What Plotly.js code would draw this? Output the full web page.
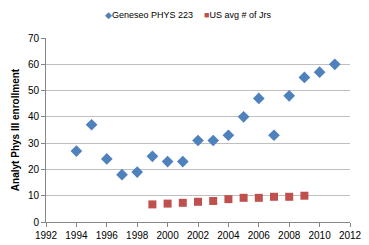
<!DOCTYPE html>
<html><head><meta charset="utf-8">
<script src="https://cdn.plot.ly/plotly-3.0.1.min.js"></script>
<style>html,body{margin:0;padding:0;background:#fff}#c{width:369px;height:245px}</style>
</head><body><div id="c"></div>
<script>
const geneseoYears = [1994,1995,1996,1997,1998,1999,2000,2001,2002,2003,2004,2005,2006,2007,2008,2009,2010,2011];
const geneseoValues = [27,37,24,18,19,25,23,23,31,31,33,40,47,33,48,55,57,60];
const usYears = [1999,2000,2001,2002,2003,2004,2005,2006,2007,2008,2009];
const usValues = [6.7,7,7.3,7.7,8,8.7,9.2,9.2,9.6,9.6,10];
const xTicks = [1992,1994,1996,1998,2000,2002,2004,2006,2008,2010,2012];
const yTicks = [0,10,20,30,40,50,60,70];
const seriesNames = ['Geneseo PHYS 223','US avg # of Jrs'];
const seriesColors = ['#4F81BD','#C0504D'];

const fam = '"Liberation Sans", Arial, sans-serif';
const data = [
  {x:geneseoYears, y:geneseoValues, type:'scatter', mode:'markers', name:seriesNames[0],
   marker:{symbol:'diamond', size:9, color:seriesColors[0]}},
  {x:usYears, y:usValues, type:'scatter', mode:'markers', name:seriesNames[1],
   marker:{symbol:'square', size:8, color:seriesColors[1]}}
];
const layout = {
  width:369, height:245,
  margin:{l:46, r:19, t:38, b:23},
  paper_bgcolor:'#fff', plot_bgcolor:'#fff',
  font:{family:fam, size:10, color:'#000'},
  showlegend:false,
  annotations:[
    {xref:'paper', yref:'paper', x:0.188, xanchor:'left', y:1.127, yanchor:'middle', showarrow:false,
     text:'<span style="color:'+seriesColors[0]+'">◆</span>'+seriesNames[0], font:{family:fam, size:9}},
    {xref:'paper', yref:'paper', x:0.513, xanchor:'left', y:1.127, yanchor:'middle', showarrow:false,
     text:'<span style="color:'+seriesColors[1]+'">■</span>'+seriesNames[1], font:{family:fam, size:9}}
  ],
  xaxis:{range:[1992,2012], tickvals:xTicks, ticktext:xTicks.map(String), showgrid:false, zeroline:false,
    showline:true, linecolor:'#868686', linewidth:1, ticks:'outside', ticklen:4, tickcolor:'#868686',
    tickfont:{family:fam, size:10}},
  yaxis:{range:[0,70], tickvals:yTicks, ticktext:yTicks.map(String), showgrid:true, gridcolor:'#BFBFBF', gridwidth:1,
    zeroline:false, showline:true, linecolor:'#868686', linewidth:1, ticks:'outside', ticklen:4, tickcolor:'#868686',
    tickfont:{family:fam, size:10},
    title:{text:'<b>Analyt Phys III enrollment</b>', font:{family:fam, size:10}, standoff:6}}
};
Plotly.newPlot('c', data, layout, {displayModeBar:false, staticPlot:true});
</script></body></html>
